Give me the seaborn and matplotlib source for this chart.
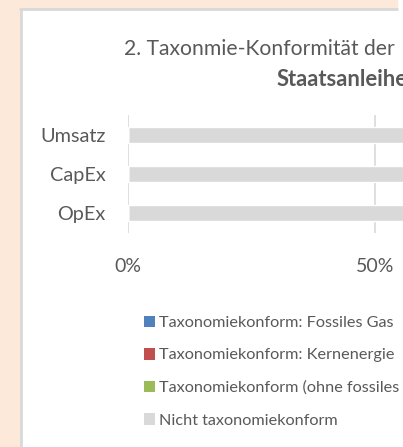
import pandas as pd
import seaborn as sns
import matplotlib.pyplot as plt
from matplotlib.patches import Patch, Rectangle
from matplotlib.lines import Line2D

sns.set_style('white')
plt.rcParams['font.family'] = ['Lato', 'DejaVu Sans']

# Data (percent)
categories = ['Umsatz', 'CapEx', 'OpEx']
fossil_gas = [0, 0, 0]
nuclear = [0, 0, 0]
aligned_other = [0, 0, 0]
not_aligned = [100, 100, 100]

series_labels = ['Taxonomiekonform: Fossiles Gas',
                 'Taxonomiekonform: Kernenergie',
                 'Taxonomiekonform (ohne fossiles Gas und Kernenergie)',
                 'Nicht taxonomiekonform']
series_colors = ['#4F81BD', '#C0504D', '#9BBB59', '#D9D9D9']
xticks = [0, 50, 100]

W, H = 403, 447
grey_txt = '#595959'
beige = '#FCE9DA'

def fx(px):
    return px / W

def fy(py):
    return 1 - py / H

fig = plt.figure(figsize=(W / 100, H / 100), dpi=100, facecolor='white')

# beige frame + border of the white panel
fig.patches.append(Rectangle((0, 0), fx(20), 1, transform=fig.transFigure,
                             color=beige, zorder=0))
fig.patches.append(Rectangle((0, fy(8)), fx(397), 1 - fy(8), transform=fig.transFigure,
                             color=beige, zorder=0))
fig.lines.append(Line2D([fx(21), fx(21)], [0, fy(9)], transform=fig.transFigure,
                        color='#D9D9D9', lw=2))
fig.lines.append(Line2D([fx(20), fx(397)], [fy(9), fy(9)], transform=fig.transFigure,
                        color='#D9D9D9', lw=2))

ax = fig.add_axes([fx(128), fy(233), fx(622) - fx(128), fy(115) - fy(233)])
ax.set_facecolor('none')

df = pd.DataFrame({'Kategorie': categories, 'gas': fossil_gas, 'nuc': nuclear,
                   'green': aligned_other, 'not': not_aligned})
layers = ['gas', 'nuc', 'green', 'not']
cum = df[layers].cumsum(axis=1)
# draw from outermost layer inward so segments stack
for key, col in reversed(list(zip(layers, series_colors))):
    sns.barplot(x=cum[key], y=df['Kategorie'], color=col, width=0.4,
                orient='h', ax=ax, saturation=1, zorder=2)

ax.set_xlim(0, 100)
ax.set_ylim(2.5, -0.5)
ax.set_xticks(xticks)
ax.set_xticklabels([f'{t}%' for t in xticks])
ax.grid(axis='x', color='#D9D9D9', lw=1.2, zorder=0)
ax.set_axisbelow(True)
for s in ax.spines.values():
    s.set_visible(False)
ax.set_xlabel('')
ax.set_ylabel('')
ax.tick_params(axis='x', length=0, pad=18, labelsize=14, labelcolor=grey_txt)
ax.tick_params(axis='y', length=0, pad=16, labelsize=14.3, labelcolor=grey_txt)

# title (only the left part of the wider chart title is in view)
fig.text(fx(124), fy(49), '2. Taxonmie-Konformität der',
         ha='left', va='center', fontsize=15.2, color=grey_txt)
fig.text(fx(277), fy(79), 'Staatsanleihen', ha='left', va='center',
         fontsize=15.8, fontweight='bold', color=grey_txt)

handles = [Patch(facecolor=c, edgecolor='none') for c in series_colors]
fig.legend(handles, series_labels, loc='upper left',
           bbox_to_anchor=(fx(129), fy(301)), frameon=False, fontsize=11.7,
           labelcolor=grey_txt, handlelength=0.72, handleheight=0.72,
           handletextpad=0.25, labelspacing=1.1)

fig.savefig('out.png', dpi=100)
